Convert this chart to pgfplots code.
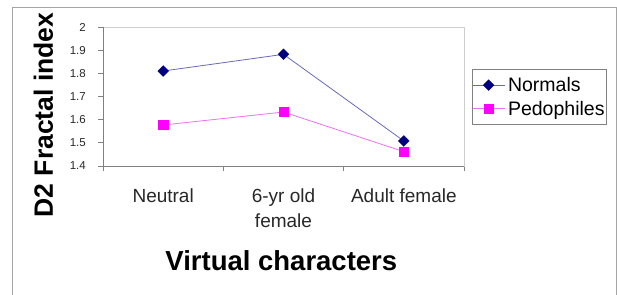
\documentclass[border=0pt]{standalone}
\usepackage{pgfplots}
\pgfplotsset{compat=1.18}
\usepackage{fontspec}
\setmainfont{Liberation Sans}
\definecolor{navy}{RGB}{0,0,128}
\definecolor{mag}{RGB}{255,0,255}
\definecolor{navyline}{RGB}{105,105,185}
\definecolor{magline}{RGB}{245,110,245}
\definecolor{framegray}{RGB}{165,165,165}
\definecolor{axgray}{RGB}{128,128,128}
\definecolor{boxgray}{RGB}{205,205,205}
\definecolor{txt}{RGB}{40,40,40}
\begin{document}
\begin{tikzpicture}[x=1pt,y=1pt]
\useasboundingbox (0,0) rectangle (617,294);
\fill[white] (0,0) rectangle (617,294);
\draw[framegray, line width=1pt] (12,-10) -- (12,286) -- (616,286) -- (616,-10);
\begin{axis}[
  at={(103pt,128pt)}, anchor=south west,
  scale only axis, width=361pt, height=139pt,
  xmin=-0.5, xmax=2.5, ymin=1.4, ymax=2,
  xtick={-0.5,0.5,1.5,2.5},
  x tick label as interval,
  xticklabels={Neutral,{6-yr old\\female},Adult female},
  xticklabel style={align=center, anchor=north, inner sep=0pt, yshift=-18pt, text=txt,
    font=\fontsize{19}{25}\selectfont},
  ytick={1.4,1.5,1.6,1.7,1.8,1.9,2.0},
  yticklabel style={anchor=east, inner sep=0pt, xshift=-12pt, text=txt,
    font=\fontsize{11.5}{13}\selectfont,
    /pgf/number format/fixed, /pgf/number format/precision=1},
  /pgf/number format/assume math mode=true,
  axis line style={boxgray, line width=0.8pt},
  tick style={axgray, line width=0.8pt},
  tick align=outside,
  major tick length=5pt,
  xtick pos=left, ytick pos=left,
  ylabel={D2 Fractal index},
  ylabel style={at={(axis description cs:-0.165,0.367)}, anchor=center,
    font=\bfseries\fontsize{26.5}{30}\selectfont},
  xlabel={Virtual characters},
  xlabel style={at={(axis description cs:0.494,-0.755)}, anchor=base,
    font=\bfseries\fontsize{27.5}{32}\selectfont},
  legend style={at={(axis description cs:1.022,0.698)}, anchor=north west,
    draw=axgray, line width=0.6pt, inner xsep=0pt, inner ysep=6pt,
    font=\fontsize{19.5}{22}\selectfont, row sep=4pt,
    nodes={inner sep=2pt}},
  legend cell align=left,
  legend image code/.code={\draw[mark repeat=2,mark phase=2,#1]
    plot coordinates {(0pt,0pt)(16pt,0pt)(32pt,0pt)};},
  clip=false,
]
\addplot[navyline, line width=0.8pt, mark=square*, mark size=3.8pt,
  mark options={navy, fill=navy, rotate=45, line width=0.4pt}]
  coordinates {(0,1.810) (1,1.882) (2,1.508)};
\addplot[magline, line width=0.8pt, mark=square*, mark size=4.6pt,
  mark options={mag, fill=mag, line width=0.4pt}]
  coordinates {(0,1.577) (1,1.633) (2,1.462)};
\legend{\hspace{1pt}Normals,\hspace{1pt}Pedophiles\hspace{9pt}}
\draw[axgray, line width=0.8pt] (rel axis cs:0,1) -- (rel axis cs:0,0) -- (rel axis cs:1,0);
\end{axis}
\end{tikzpicture}
\end{document}
